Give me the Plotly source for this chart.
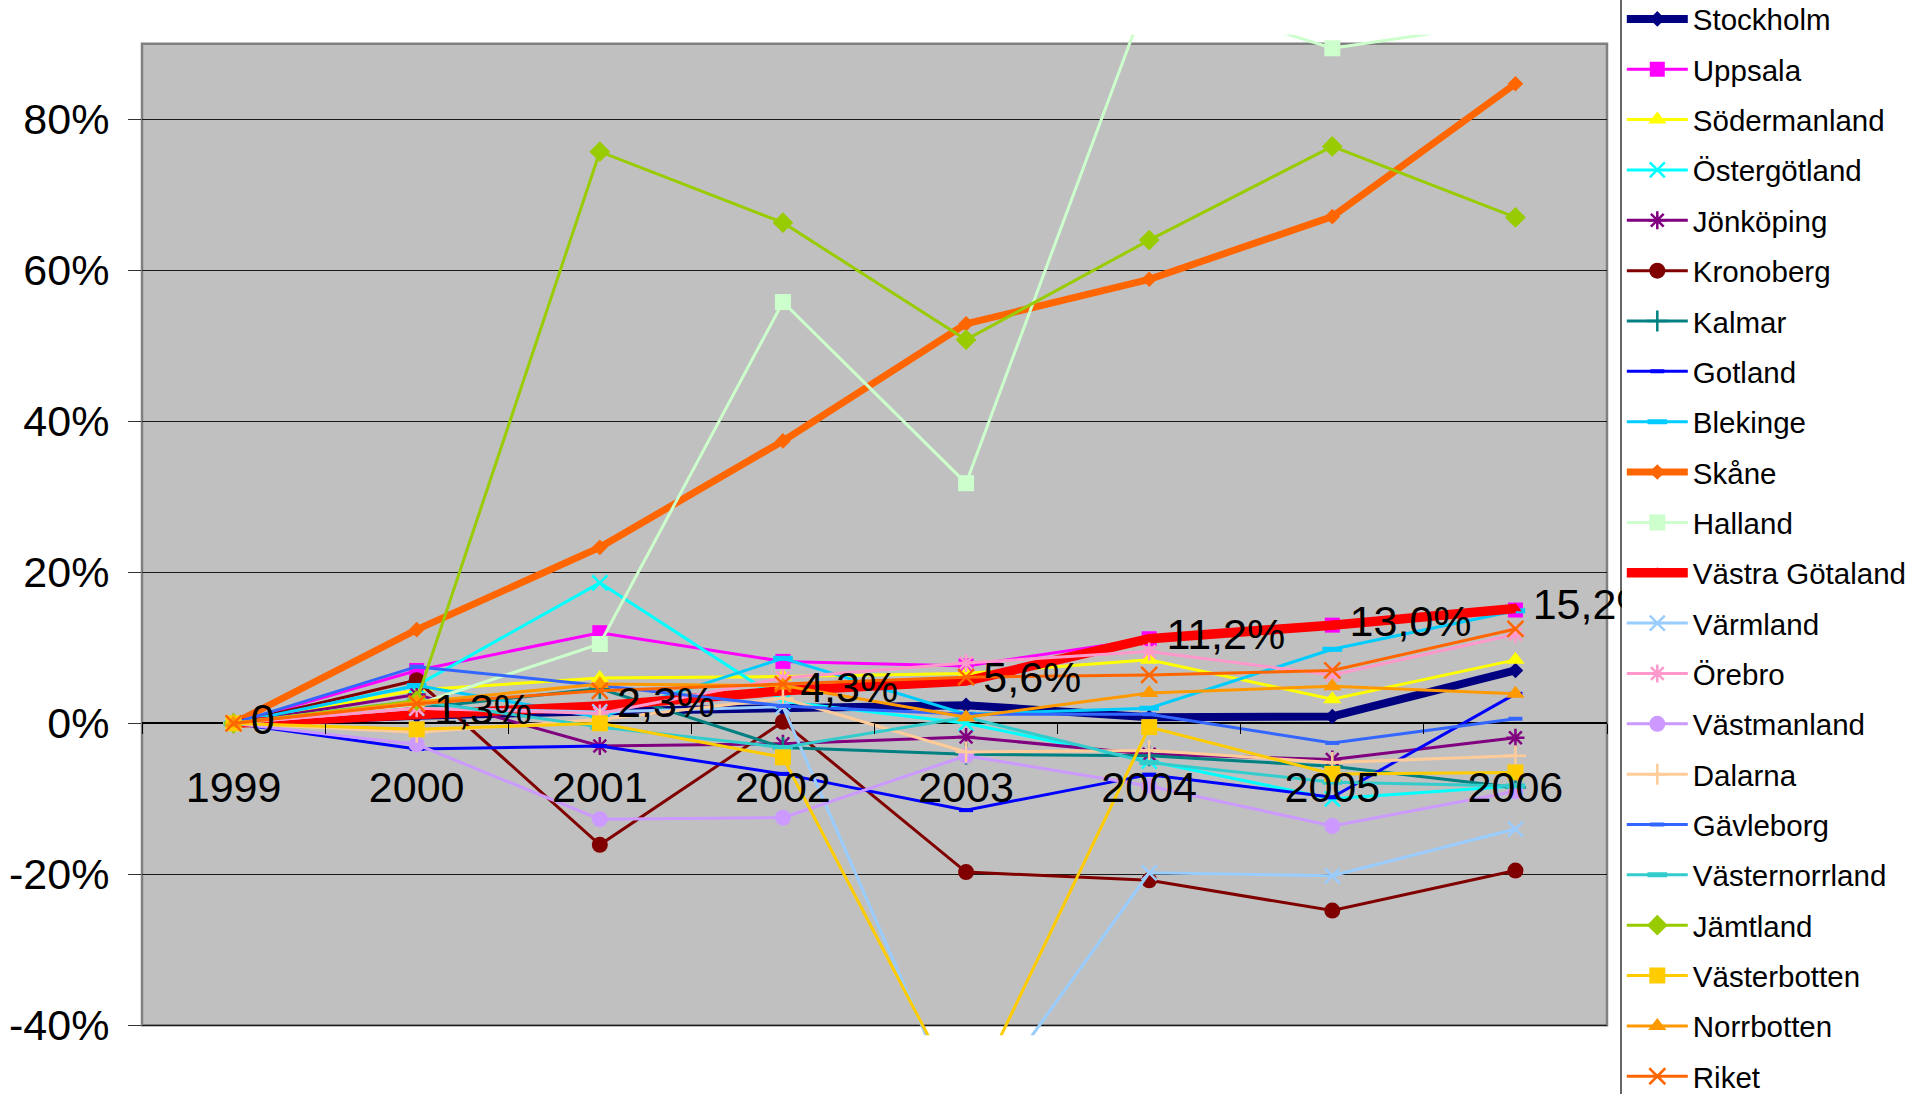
import plotly.graph_objects as go

# ---------------- data (percent change vs 1999) ----------------
years = ["1999", "2000", "2001", "2002", "2003", "2004", "2005", "2006"]

stockholm = [0, 1.0, 1.6, 2.0, 2.4, 0.8, 0.9, 7.0]
uppsala = [0, 7.0, 12.0, 8.2, 7.6, 11.2, 13.0, 15.0]
sodermanland = [0, 4.4, 6.0, 6.2, 6.6, 8.4, 3.2, 8.4]
ostergotland = [0, 5.0, 18.6, 2.9, 0.0, -5.0, -10.0, -8.3]
jonkoping = [0, 3.8, -3.0, -2.7, -1.8, -4.1, -4.8, -1.9]
kronoberg = [0, 5.7, -16.1, 0.2, -19.7, -20.8, -24.8, -19.5]
kalmar = [0, 2.0, 4.6, -3.2, -4.1, -4.3, -5.7, -8.5]
gotland = [0, -3.4, -3.0, -6.7, -11.5, -6.8, -9.8, 3.9]
blekinge = [0, 5.0, 0.8, 8.6, 1.2, 2.0, 9.8, 14.9]
skane = [0, 12.4, 23.3, 37.4, 52.9, 58.8, 67.1, 84.7]
halland = [0, 2.5, 10.5, 55.8, 31.8, 97.0, 89.4, 93.0]
vastra_gotaland = [0, 1.3, 2.3, 4.3, 5.6, 11.2, 13.0, 15.2]
varmland = [0, 2.0, 1.5, 2.2, -53.5, -19.8, -20.2, -14.0]
orebro = [0, 2.0, 1.3, 6.0, 8.0, 9.5, 6.4, 11.8]
vastmanland = [0, -2.8, -12.7, -12.5, -4.3, -8.3, -13.6, -9.0]
dalarna = [0, -1.2, 0.5, 3.3, -3.8, -3.6, -5.2, -4.3]
gavleborg = [0, 7.5, 5.0, 2.3, 1.2, 1.2, -2.6, 0.6]
vasternorrland = [0, 3.0, -0.5, -3.2, 0.8, -5.2, -7.8, -8.3]
jamtland = [0, 3.0, 75.7, 66.3, 50.8, 64.0, 76.4, 67.0]
vasterbotten = [0, -0.8, 0.0, -4.5, -51.0, -0.5, -6.7, -6.5]
norrbotten = [0, 2.8, 5.2, 5.0, 0.8, 4.0, 4.9, 3.9]
riket = [0, 2.6, 4.3, 5.2, 6.1, 6.4, 7.0, 12.5]

vg_labels = ["0", "1,3%", "2,3%", "4,3%", "5,6%", "11,2%", "13,0%", "15,2%"]

y_tick_vals = [-40, -20, 0, 20, 40, 60, 80]
y_tick_text = ["-40%", "-20%", "0%", "20%", "40%", "60%", "80%"]

# ---------------- style ----------------
FONT = "Liberation Sans, Arial, sans-serif"
W, H = 1930, 1094
THIN = 3

series = [
    # name, values, color, line width, marker symbol, marker size, open-marker line width
    ("Stockholm", stockholm, "#000080", 8, "diamond", 12, 0),
    ("Uppsala", uppsala, "#FF00FF", THIN, "square", 15, 0),
    ("Södermanland", sodermanland, "#FFFF00", THIN, "triangle-up", 16, 0),
    ("Östergötland", ostergotland, "#00FFFF", THIN, "x-thin-open", 15, 2.5),
    ("Jönköping", jonkoping, "#800080", THIN, "asterisk-open", 15, 2.5),
    ("Kronoberg", kronoberg, "#800000", THIN, "circle", 16, 0),
    ("Kalmar", kalmar, "#008080", THIN, "cross-thin-open", 15, 2.5),
    ("Gotland", gotland, "#0000FF", THIN, "line-ew-open", 10, 4),
    ("Blekinge", blekinge, "#00CCFF", THIN, "line-ew-open", 14, 5),
    ("Skåne", skane, "#FF6600", 7, "diamond", 12, 0),
    ("Halland", halland, "#CCFFCC", THIN, "square", 16, 0),
    ("Västra Götaland", vastra_gotaland, "#FF0000", 9.5, "triangle-up", 11, 0),
    ("Värmland", varmland, "#99CCFF", THIN, "x-thin-open", 15, 2.5),
    ("Örebro", orebro, "#FF99CC", THIN, "asterisk-open", 15, 2.5),
    ("Västmanland", vastmanland, "#CC99FF", THIN, "circle", 16, 0),
    ("Dalarna", dalarna, "#FFCC99", THIN, "cross-thin-open", 15, 2.5),
    ("Gävleborg", gavleborg, "#3366FF", THIN, "line-ew-open", 10, 4),
    ("Västernorrland", vasternorrland, "#33CCCC", THIN, "line-ew-open", 14, 5),
    ("Jämtland", jamtland, "#99CC00", THIN, "diamond", 16, 0),
    ("Västerbotten", vasterbotten, "#FFCC00", THIN, "square", 16, 0),
    ("Norrbotten", norrbotten, "#FF9900", THIN, "triangle-up", 16, 0),
    ("Riket", riket, "#FF6600", THIN, "x-thin-open", 16, 2.5),
]

fig = go.Figure()
for name, vals, color, lw, sym, msize, olw in series:
    marker = dict(symbol=sym, size=msize, color=color)
    if olw:
        marker["line"] = dict(color=color, width=olw)
    fig.add_trace(go.Scatter(
        x=years, y=vals, name=name, legendgroup=name, mode="lines+markers",
        line=dict(color=color, width=lw), marker=marker))

# data labels for Västra Götaland (invisible spacer markers push the text off the point)
fig.add_trace(go.Scatter(
    x=years, y=vastra_gotaland, text=vg_labels, mode="markers+text",
    textposition="middle right",
    textfont=dict(family=FONT, size=43, color="black"),
    marker=dict(size=26, color="rgba(0,0,0,0)"),
    cliponaxis=False, showlegend=False, hoverinfo="skip"))

# ---------------- layout geometry ----------------
y_min, y_max = -41.3, 91.2          # axis range (lines may spill slightly past the grey area)
area_lo, area_hi = -40, 90           # grey plot area
dom_lo, dom_hi = 0.0538, 0.9683
zero_pos = dom_lo + (0 - y_min) / (y_max - y_min) * (dom_hi - dom_lo)

m_l, m_r = 142, 323
plot_w = W - m_l - m_r
legend_line_x = (1621 - m_l) / plot_w
legend_x = (1621.8 - m_l) / plot_w

fig.update_layout(
    width=W, height=H,
    margin=dict(l=m_l, r=m_r, t=0, b=0, autoexpand=False),
    paper_bgcolor="white", plot_bgcolor="white",
    font=dict(family=FONT, color="black"),
    showlegend=True,
    legend=dict(
        x=legend_x, xanchor="left", y=1.0062, yanchor="top",
        bgcolor="white", borderwidth=0,
        font=dict(family=FONT, size=29.5, color="black"),
        itemwidth=61, tracegroupgap=9, traceorder="grouped",
        maxheight=1400,
    ),
    xaxis=dict(
        type="category", range=[-0.5, 7.5], domain=[0, 1],
        anchor="free", position=zero_pos,
        showline=False, showgrid=False, zeroline=False,
        ticks="outside", tickson="boundaries", ticklen=10, tickwidth=1.2,
        tickcolor="black", ticklabelstandoff=35,
        tickfont=dict(family=FONT, size=43, color="black"),
    ),
    yaxis=dict(
        range=[y_min, y_max], domain=[dom_lo, dom_hi],
        tickvals=y_tick_vals, ticktext=y_tick_text,
        showline=False, showgrid=True, gridcolor="#1a1a1a", gridwidth=1.2,
        zeroline=True, zerolinecolor="black", zerolinewidth=1.5,
        ticks="outside", ticklen=13, tickwidth=1.2, tickcolor="#333333",
        ticklabelstandoff=10,
        tickfont=dict(family=FONT, size=43, color="black"),
    ),
    shapes=[
        dict(type="rect", xref="paper", yref="y", x0=0, x1=1,
             y0=area_lo, y1=area_hi, fillcolor="#C0C0C0",
             line=dict(width=0), layer="below"),
        dict(type="rect", xref="paper", yref="y", x0=0, x1=1,
             y0=area_lo, y1=area_hi, fillcolor="rgba(0,0,0,0)",
             line=dict(color="#808080", width=2.5), layer="between"),
        # left edge of the legend box (box runs past the page edges like the original)
        dict(type="line", xref="paper", yref="paper",
             x0=legend_line_x, x1=legend_line_x, y0=-0.05, y1=1.05,
             line=dict(color="black", width=1.2), layer="above"),
    ],
)

fig.write_html("out.html", config={"displayModeBar": False},
               post_script="document.body.style.margin='0';")
